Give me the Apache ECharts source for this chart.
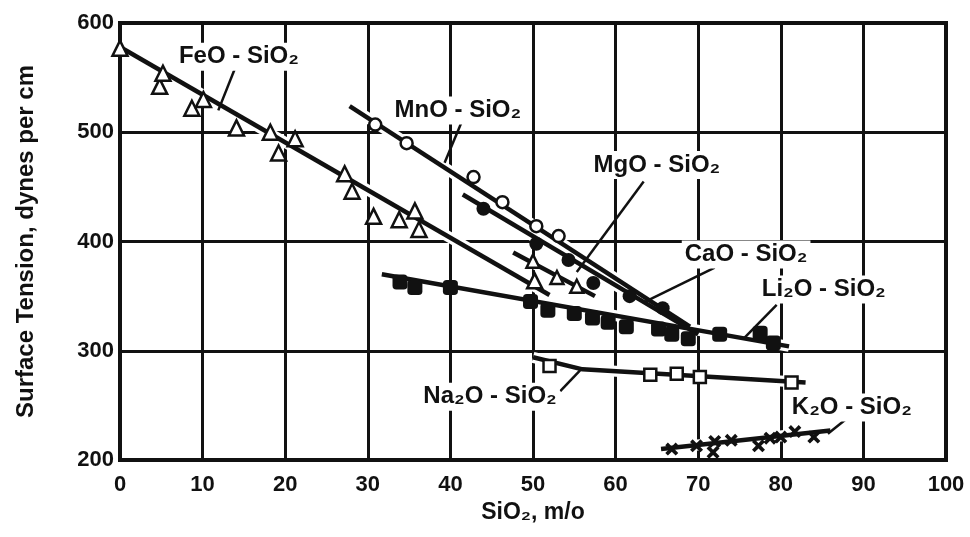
<!DOCTYPE html>
<html>
<head>
<meta charset="utf-8">
<script src="https://cdn.jsdelivr.net/npm/echarts@6/dist/echarts.min.js"></script>
<style>
  html, body { margin: 0; padding: 0; background: #fff; }
  #chart { width: 970px; height: 537px; }
</style>
</head>
<body>
<div id="chart"></div>
<script>
const feoPoints = [[0, 577], [4.8, 542], [5.2, 554], [8.7, 522], [10.1, 530], [14.1, 504], [18.2, 500],
    [19.2, 481], [21.2, 494], [27.2, 462], [28.1, 446], [30.7, 423], [33.8, 420], [35.7, 428],
    [36.2, 411], [50.2, 364]];
const mnoPoints = [[30.9, 507], [34.7, 490], [42.8, 459], [46.3, 436], [50.4, 414], [53.1, 405]];
const mgoPoints = [[50, 382], [52.9, 367], [55.3, 359]];
const caoPoints = [[44, 430], [50.4, 398], [54.3, 383], [57.3, 362], [61.7, 350], [65.7, 339]];
const li2oPoints = [[33.9, 363], [35.7, 358], [40, 358], [49.7, 345], [51.8, 337], [55, 334], [57.2, 330],
    [59.1, 326], [61.3, 322], [65.2, 320], [66.8, 315], [68.8, 311], [72.6, 315], [77.5, 316], [79.1, 307]];
const na2oPoints = [[52, 286], [64.2, 278], [67.4, 279], [70.2, 276], [81.3, 271]];
const k2oPoints = [[66.8, 210], [69.8, 213], [71.8, 207], [72, 217], [74, 218], [77.3, 213], [78.7, 220],
    [80, 221], [81.7, 226], [84, 221]];

// hand drawn curves through each system
const feoCurve = [[0, 578], [52, 351]];
const mnoCurve = [[27.8, 524], [69, 322]];
const mgoCurve = [[47.6, 390], [57.5, 350]];
const caoCurve = [[41.5, 443], [70, 315]];
const li2oCurve = [[31.7, 370], [81, 304]];
const na2oCurve = [[50, 294], [56, 283], [83, 271]];
const k2oCurve = [[65.5, 210], [86, 227]];

// system names and where they sit on the plot
const systemNames = ['FeO - SiO₂', 'MnO - SiO₂', 'MgO - SiO₂', 'CaO - SiO₂', 'Li₂O - SiO₂', 'Na₂O - SiO₂', 'K₂O - SiO₂'];
const nameAnchors = [[14.4, 569], [40.9, 520], [65, 470], [75.8, 388], [85.2, 356], [44.8, 258], [88.6, 248]];
const leaders = [
    [[14, 560], [11.9, 520]],
    [[41.4, 510], [39.3, 472]],
    [[63.4, 455], [55.3, 372]],
    [[72, 376], [63.6, 345]],
    [[79.5, 342], [75.5, 311]],
    [[53.3, 263], [55.7, 282]],
    [[88, 238], [85.7, 224]]
];

const curves = [feoCurve, mnoCurve, mgoCurve, caoCurve, li2oCurve, na2oCurve, k2oCurve];

const crossPath = 'path://M0,2L2,0L5,3L8,0L10,2L7,5L10,8L8,10L5,7L2,10L0,8L3,5Z';

function pointSeries(data, symbol, size, filled) {
    return {
        type: 'scatter',
        data: data,
        symbol: symbol,
        symbolSize: size,
        z: 5,
        itemStyle: {
            opacity: 1,
            color: filled ? '#111' : '#fff',
            borderColor: '#111',
            borderWidth: filled ? 0 : 2.5
        }
    };
}

const series = [];
// white halos first so the curves cut the grid like on the print
curves.forEach(c => series.push({
    type: 'line', data: c, symbol: 'none', silent: true, z: 3,
    lineStyle: { color: '#fff', width: 11 }
}));
curves.forEach(c => series.push({
    type: 'line', data: c, symbol: 'none', silent: true, z: 4,
    lineStyle: { color: '#111', width: 4.5 }
}));
leaders.forEach(l => series.push({
    type: 'line', data: l, symbol: 'none', silent: true, z: 4,
    lineStyle: { color: '#111', width: 2.5 }
}));
series.push(pointSeries(feoPoints, 'triangle', 15, false));
series.push(pointSeries(mnoPoints, 'circle', 12, false));
series.push(pointSeries(mgoPoints, 'triangle', 13, false));
series.push(pointSeries(caoPoints, 'circle', 14, true));
series.push(pointSeries(li2oPoints, 'roundRect', 15, true));
series.push(pointSeries(na2oPoints, 'rect', 12, false));
series.push(pointSeries(k2oPoints, crossPath, 13, true));
series.push({
    type: 'scatter',
    symbolSize: 0,
    silent: true,
    z: 6,
    itemStyle: { opacity: 1 },
    data: nameAnchors.map((p, i) => [p[0], p[1], systemNames[i]]),
    label: {
        show: true,
        position: 'inside',
        formatter: p => p.data[2],
        color: '#111',
        fontFamily: 'Liberation Sans',
        fontWeight: 'bold',
        fontSize: 24,
        backgroundColor: '#fff',
        padding: [2, 3]
    }
});

const chart = echarts.init(document.getElementById('chart'));
chart.setOption({
    backgroundColor: '#fff',
    animation: false,
    grid: {
        left: 120, right: 24, top: 23, bottom: 77,
        show: true, borderColor: '#111', borderWidth: 4
    },
    xAxis: {
        type: 'value', min: 0, max: 100, interval: 10,
        name: 'SiO₂, m/o',
        nameLocation: 'middle',
        nameGap: 38,
        nameTextStyle: { color: '#111', fontFamily: 'Liberation Sans', fontWeight: 'bold', fontSize: 23 },
        axisLine: { show: false },
        axisTick: { show: false },
        axisLabel: { color: '#111', fontFamily: 'Liberation Sans', fontWeight: 'bold', fontSize: 22, margin: 14 },
        splitLine: { show: true, lineStyle: { color: '#111', width: 3 } }
    },
    yAxis: {
        type: 'value', min: 200, max: 600, interval: 100,
        name: 'Surface Tension, dynes per cm',
        nameLocation: 'middle',
        nameGap: 82,
        nameTextStyle: { color: '#111', fontFamily: 'Liberation Sans', fontWeight: 'bold', fontSize: 24 },
        axisLine: { show: false },
        axisTick: { show: false },
        axisLabel: { color: '#111', fontFamily: 'Liberation Sans', fontWeight: 'bold', fontSize: 22, margin: 6 },
        splitLine: { show: true, lineStyle: { color: '#111', width: 3 } }
    },
    series: series
});
</script>
</body>
</html>
